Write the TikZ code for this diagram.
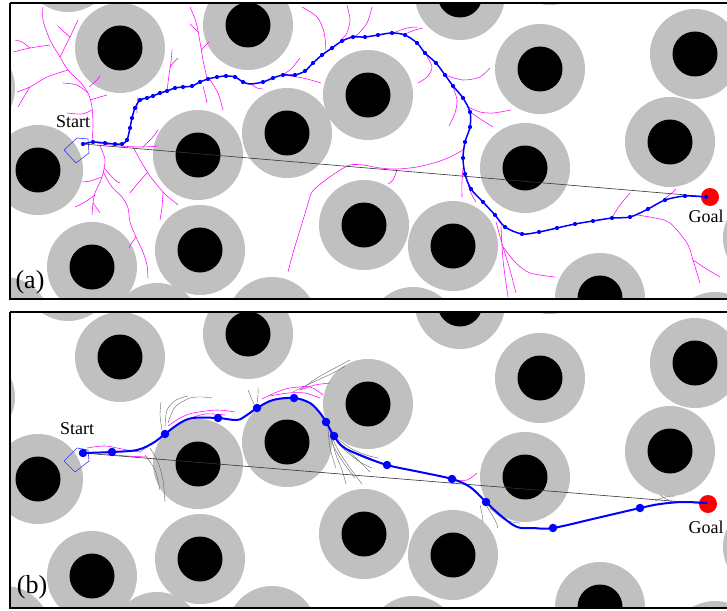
\documentclass[tikz,border=0pt]{standalone}
\usepackage{fontspec}
\setmainfont{Liberation Serif}
\definecolor{obsgrey}{RGB}{192,192,192}
\definecolor{treemag}{RGB}{255,0,255}
\definecolor{pathblue}{RGB}{0,0,255}
\definecolor{fangrey}{RGB}{100,100,100}
\def\obslist{120/48, 248/25, 38/170, 198/155, 287/133, 368/95, 364/225, 92/267, 200/250, 460/-5, 540/69, 695/54, 670/142, 525/168, 453/246, 600/298, 768/238, 413/332, 157/328, 272/322, 5/322, -30/88, 68/-33, 550/-40, 652/-42, 715/337}
\newcommand{\drawobstacles}{%
  \foreach \cx/\cy in \obslist {\fill[obsgrey] (\cx,\cy) circle[radius=45pt];}
  \foreach \cx/\cy in \obslist {\fill[black] (\cx,\cy) circle[radius=22.5pt];}
}
\newcommand{\br}[1]{\draw[branch] plot[smooth] coordinates {#1};}
\newcommand{\fn}[1]{\draw[fan] plot[smooth] coordinates {#1};}
\tikzset{
  frame/.style={draw=black, line width=1.8pt},
  branch/.style={draw=treemag, line width=0.55pt},
  fan/.style={draw=fangrey, line width=0.4pt},
  direct/.style={draw=black!80, line width=0.6pt},
  robot/.style={draw=pathblue!80, line width=0.6pt},
  pathA/.style={draw=pathblue, line width=1.5pt},
  pathB/.style={draw=pathblue, line width=2pt},
  dotA/.style={fill=pathblue, circle, inner sep=0pt, minimum size=4.2pt},
  dotB/.style={fill=pathblue, circle, inner sep=0pt, minimum size=8.5pt},
  goalmark/.style={fill=red, circle, inner sep=0pt, minimum size=18pt},
  lbl/.style={font=\fontsize{18}{20}\selectfont, inner sep=0pt},
  panellbl/.style={font=\fontsize{26}{28}\selectfont, inner sep=0pt}
}
\begin{document}
\begin{tikzpicture}[x=1pt,y=-1pt]
\useasboundingbox (0,0) rectangle (727,610);
\fill[white] (0,0) rectangle (727,610);

% ================= Panel (a) =================
\begin{scope}
\clip (10,3) rectangle (740,299);
\drawobstacles
\br{(92,140) (93,127) (92,107) (88,93) (80,82) (68,70) (60,57) (50,40) (43,20) (43,7)}
\br{(50,45) (30,48) (13,52)}
\br{(30,48) (22,42) (15,40)}
\br{(60,57) (70,37) (78,20)}
\br{(70,37) (62,30) (58,26)}
\br{(68,70) (47,77) (30,87) (17,92)}
\br{(30,87) (22,100) (18,107)}
\br{(88,93) (77,85) (63,83)}
\br{(90,100) (100,97) (107,95)}
\br{(92,110) (82,114) (67,113)}
\br{(89,87) (97,80) (100,76)}
\br{(100,146) (105,160) (102,177) (95,193) (93,203) (92,215)}
\br{(102,177) (90,181) (82,182)}
\br{(95,195) (85,202) (75,207)}
\br{(93,203) (98,210) (100,213)}
\br{(104,168) (115,180) (120,183)}
\br{(103,172) (112,187) (122,197) (128,208) (130,222) (136,237) (143,252) (147,265) (148,278)}
\br{(136,237) (131,244) (129,248)}
\br{(133,147) (143,165) (150,176) (157,185) (165,194) (172,200) (178,205)}
\br{(148,172) (138,183) (130,193)}
\br{(163,192) (162,207) (160,220)}
\br{(97,143) (120,146) (143,147) (158,146)}
\br{(143,147) (152,138) (158,130)}
\br{(207,78) (203,60) (200,42) (196,22) (190,7)}
\br{(201,50) (206,45) (209,42)}
\br{(198,32) (193,27) (190,24)}
\br{(167,91) (169,75) (171,62) (172,50)}
\br{(170,67) (175,61) (178,58)}
\br{(138,97) (137,107) (137,113)}
\br{(210,80) (218,93) (223,110)}
\br{(203,86) (206,98) (207,103)}
\br{(326,50) (324,32) (317,17) (302,7)}
\br{(342,39) (347,33) (350,20) (347,5)}
\br{(350,37) (357,35) (367,23) (372,7)}
\br{(405,34) (415,30) (423,28)}
\br{(393,33) (407,28) (417,27)}
\br{(425,53) (432,67) (427,77) (418,83)}
\br{(445,75) (463,80) (480,77) (490,68)}
\br{(453,87) (457,100) (455,113) (449,126)}
\br{(468,107) (480,112) (493,113) (511,110)}
\br{(470,112) (482,120) (493,127)}
\br{(283,75) (303,78) (321,83)}
\br{(283,75) (292,68) (300,58)}
\br{(250,83) (257,88) (263,89)}
\br{(463,150) (450,157) (437,162) (417,167) (397,169) (380,168) (363,165) (350,165) (337,172) (323,182) (312,192) (307,207) (300,230) (293,253) (288,272)}
\br{(397,170) (393,180) (388,184)}
\br{(463,168) (462,182) (462,197)}
\br{(468,185) (472,195) (476,202)}
\br{(496,222) (503,247) (510,270) (516,293)}
\br{(503,247) (516,263) (530,273) (555,277)}
\br{(501,226) (503,260) (508,297)}
\br{(611,219) (620,205) (630,193)}
\br{(637,215) (655,218) (670,223) (687,243) (693,260) (700,283)}
\br{(693,260) (705,268) (720,277)}
\br{(663,200) (673,192) (676,189)}
\end{scope}
\draw[frame] (10,3) -- (740,3);
\draw[frame] (10,3) -- (10,299) -- (740,299);

% robot, direct line, path (a)
\coordinate (sa) at (83,144);
\node[goalmark] (ga) at (710,197) {};
\draw[robot] (64,150) -- (77,138) -- (88,139) -- (89,153) -- (76,163) -- cycle;
\draw[direct] (sa) -- (ga.center);
\draw[pathA] plot[smooth,tension=0.5] coordinates {(83,144) (93,142) (105,143) (115,144) (122,144) (127,140) (130,128) (132,118) (135,108) (140,100) (147,98) (153,96) (160,93) (167,91) (175,88) (183,87) (192,86) (200,82) (208,79) (217,77) (226,76) (235,77) (243,82) (250,84) (263,82) (273,78) (283,75) (295,75) (305,71) (313,63) (322,55) (332,48) (342,41) (353,37) (365,37) (378,35) (392,33) (405,35) (417,43) (425,53) (436,63) (445,75) (453,86) (463,98) (470,112) (470,127) (465,142) (463,158) (465,174) (471,189) (483,202) (495,215) (505,227) (522,234) (539,232) (557,228) (575,224) (593,221) (612,218) (630,217) (648,209) (665,200) (685,196) (706,197)};
\foreach \px/\py in {83/144, 93/142, 105/143, 115/144, 122/144, 127/140, 130/128, 132/118, 135/108, 140/100, 147/98, 153/96, 160/93, 167/91, 175/88, 183/87, 192/86, 200/82, 208/79, 217/77, 226/76, 235/77, 243/82, 263/82, 273/78, 283/75, 295/75, 305/71, 313/63, 322/55, 332/48, 342/41, 353/37, 365/37, 378/35, 392/33, 405/35, 417/43, 425/53, 436/63, 445/75, 453/86, 463/98, 470/112, 470/127, 465/142, 463/158, 465/174, 471/189, 483/202, 495/215, 505/227, 522/234, 539/232, 557/228, 575/224, 593/221, 612/218, 630/217, 648/209, 665/200, 685/196, 706/197}
  {\node[dotA] at (\px,\py) {};}
\node[lbl] (starta) at (73,122) {Start};
\node[lbl] (goala) at (706,216) {Goal};
\node[panellbl] (laba) at (30,282) {(a)};

% ================= Panel (b) =================
\begin{scope}
\clip (10,312) rectangle (740,608);
\begin{scope}[shift={(0,309)}]
\drawobstacles
\end{scope}
\fn{(168,423) (175,407) (190,398) (203,397) (212,398)}
\fn{(165,427) (167,410) (176,400) (188,396)}
\fn{(162,430) (160,415) (161,402)}
\fn{(160,438) (150,445) (140,452)}
\fn{(150,448) (158,462) (163,480) (165,502)}
\fn{(145,455) (155,470) (160,490)}
\fn{(257,403) (258,395) (258,387)}
\fn{(254,404) (250,395) (248,390)}
\fn{(293,392) (307,385) (333,373) (345,366)}
\fn{(300,390) (317,378) (335,368) (350,360)}
\fn{(330,430) (333,445) (343,462) (355,478)}
\fn{(330,432) (338,450) (350,468) (362,484)}
\fn{(332,434) (345,450) (360,462) (372,468)}
\fn{(334,436) (350,448) (366,455) (378,458)}
\fn{(331,434) (335,452) (342,470) (346,484)}
\fn{(336,440) (352,452) (370,460) (390,465)}
\fn{(328,428) (330,448) (336,468)}
\fn{(338,442) (356,458) (370,472)}
\fn{(480,505) (482,514) (483,522)}
\fn{(490,508) (505,520) (520,523)}
\fn{(486,505) (495,520) (498,528)}
\fn{(655,501) (665,497) (675,496)}
\fn{(660,495) (668,500) (675,503)}
\br{(87,448) (105,446) (127,450) (140,452)}
\br{(105,454) (127,456) (147,457)}
\br{(168,426) (180,418) (193,413) (217,410) (235,412)}
\br{(185,420) (205,414) (225,415)}
\br{(262,399) (277,392) (290,388) (310,387) (323,395)}
\br{(270,396) (288,393) (305,393) (320,398)}
\br{(300,390) (315,385) (330,383)}
\br{(453,480) (467,480) (477,473)}
\end{scope}
\draw[frame] (10,312) -- (740,312);
\draw[frame] (10,312) -- (10,608) -- (740,608);

\coordinate (sb) at (83,453);
\node[goalmark] (gb) at (708,504) {};
\draw[robot] (64,461) -- (77,448) -- (88,450) -- (89,461) -- (75,472) -- cycle;
\draw[direct] (sb) -- (gb.center);
\draw[pathB] plot[smooth,tension=0.55] coordinates {(83,453) (112,452) (137,450) (153,443) (165,434) (180,423) (193,418) (218,418) (237,420) (247,415) (257,408) (273,400) (294,398) (310,403) (320,413) (326,422) (334,436) (343,447) (360,455) (387,465) (420,472) (452,479) (470,487) (486,502) (500,515) (517,527) (533,528) (553,528) (597,518) (640,508) (660,504) (683,502) (707,503)};
\foreach \px/\py in {83/453, 112/452, 165/434, 218/418, 257/408, 294/398, 326/422, 334/436, 387/465, 452/479, 486/502, 553/528, 640/508}
  {\node[dotB] at (\px,\py) {};}
\node[lbl] (startb) at (77,429) {Start};
\node[lbl] (goalb) at (706,527) {Goal};
\node[panellbl] (labb) at (32,587) {(b)};
\end{tikzpicture}
\end{document}
